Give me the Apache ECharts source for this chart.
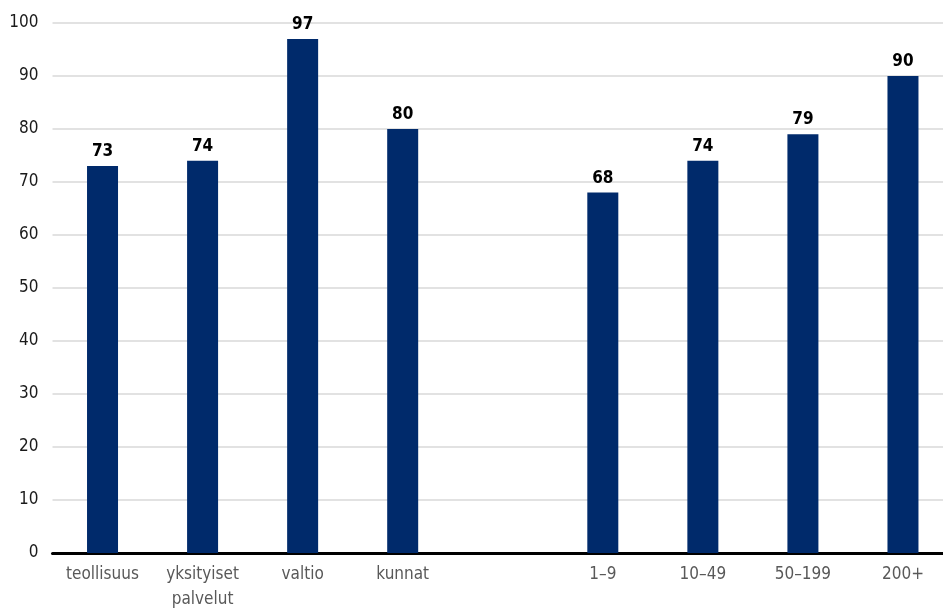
<!DOCTYPE html>
<html>
<head>
<meta charset="utf-8">
<script src="https://cdn.jsdelivr.net/npm/echarts@6/dist/echarts.min.js"></script>
<style>
  html, body { margin: 0; padding: 0; background: #ffffff; overflow: hidden; }
  #wrap { width: 943px; height: 612px; overflow: hidden; }
  /* the plot runs a little past the right edge, so the canvas is wider than the view */
  #chart { width: 953px; height: 612px; }
</style>
</head>
<body>
<div id="wrap"><div id="chart"></div></div>
<script>
// Sector groups, a blank spacer, then workplace size classes
const categories = ['teollisuus', 'yksityiset\npalvelut', 'valtio', 'kunnat', '', '1\u20139', '10\u201349', '50\u2013199', '200+'];
const values = [73, 74, 97, 80, null, 68, 74, 79, 90];
const yTicks = { min: 0, max: 100, interval: 10 };

const FONT = '"DejaVu Sans Condensed", "DejaVu Sans", sans-serif';

const chart = echarts.init(document.getElementById('chart'), null, { renderer: 'canvas' });
chart.setOption({
  animation: false,
  backgroundColor: '#ffffff',
  grid: { left: 52.5, right: 0, top: 23, bottom: 57, containLabel: false },
  xAxis: {
    type: 'category',
    data: categories,
    boundaryGap: true,
    axisLine: { show: true, lineStyle: { color: '#000000', width: 3 } },
    axisTick: { show: false },
    axisLabel: {
      interval: 0,
      color: '#595959',
      fontFamily: FONT,
      fontSize: 17,
      lineHeight: 25,
      margin: 9
    },
    splitLine: { show: false }
  },
  yAxis: {
    type: 'value',
    min: yTicks.min,
    max: yTicks.max,
    interval: yTicks.interval,
    axisLine: { show: false },
    axisTick: { show: false },
    axisLabel: {
      color: '#1a1a1a',
      fontFamily: FONT,
      fontSize: 17,
      margin: 14
    },
    splitLine: { show: true, lineStyle: { color: '#d9d9d9', width: 1.5 } }
  },
  series: [{
    type: 'bar',
    data: values,
    barWidth: 31,
    itemStyle: { color: '#002a6b' },
    label: {
      show: true,
      position: 'top',
      distance: 6,
      color: '#000000',
      fontFamily: FONT,
      fontWeight: 'bold',
      fontSize: 17,
      formatter: p => (p.value == null ? '' : String(p.value))
    }
  }]
});
</script>
</body>
</html>
